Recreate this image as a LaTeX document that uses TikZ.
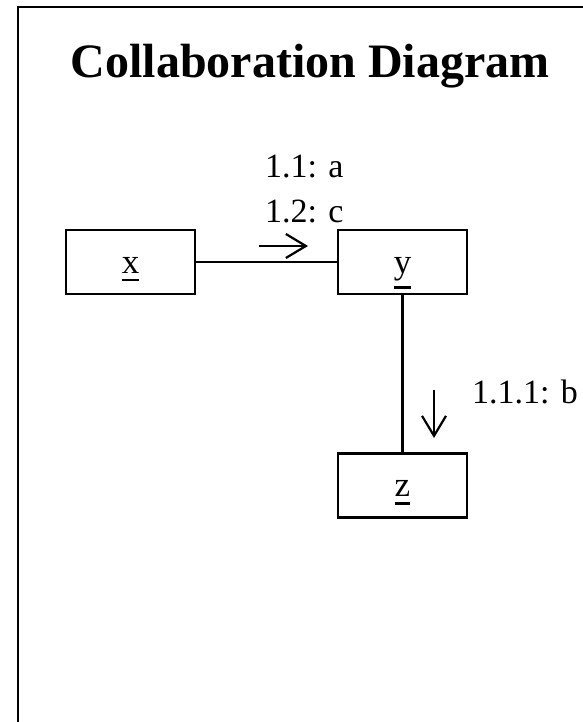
\documentclass[tikz,border=0pt]{standalone}
\usepackage{fontspec}
\setmainfont{Liberation Serif}
\usetikzlibrary{arrows.meta}
\newcommand{\objname}[1]{\setbox0=\hbox{#1}\vtop{\copy0\kern5.5pt\hrule height 2.6pt width\wd0}}

\begin{document}
\begin{tikzpicture}[x=1pt,y=-1pt,
    obj/.style={draw, line width=2.2pt, minimum width=129pt, minimum height=64pt, inner sep=0pt, text height=24pt, text depth=2pt, font=\fontsize{35}{40}\selectfont},
    msg/.style={inner sep=0pt, anchor=base west, font=\fontsize{34}{40}\selectfont},
    link/.style={line width=2.2pt},
    flow/.style={line width=2.2pt, -{Straight Barb[length=20pt,width=24pt,line width=2.2pt]}}]
    \useasboundingbox (0,0) rectangle (582,722);
    \draw[line width=2.8pt] (18,740) -- (18,7) -- (600,7);

    \node[inner sep=0pt, anchor=base, font=\fontsize{48}{56}\selectfont\bfseries] (title) at (310,78) {Collaboration Diagram};

    \node[obj] (x) at (130.5,262) {\objname{x}};
    \node[obj] (y) at (402.5,262) {\objname{y}};
    \node[obj] (z) at (402.5,485.5) {\objname{z}};

    \draw[link] (x.east) -- (y.west);
    \draw[link] (y.south) -- (z.north);

    % messages
    \node[msg] (m1) at (265,178) {1.1: a};
    \node[msg] (m2) at (265,222) {1.2: c};
    \draw[flow] (259,246) -- (308,246);

    \node[msg] (m3) at (472,403) {1.1.1: b};
    \draw[flow] (434,390) -- (434,438);
\end{tikzpicture}
\end{document}
